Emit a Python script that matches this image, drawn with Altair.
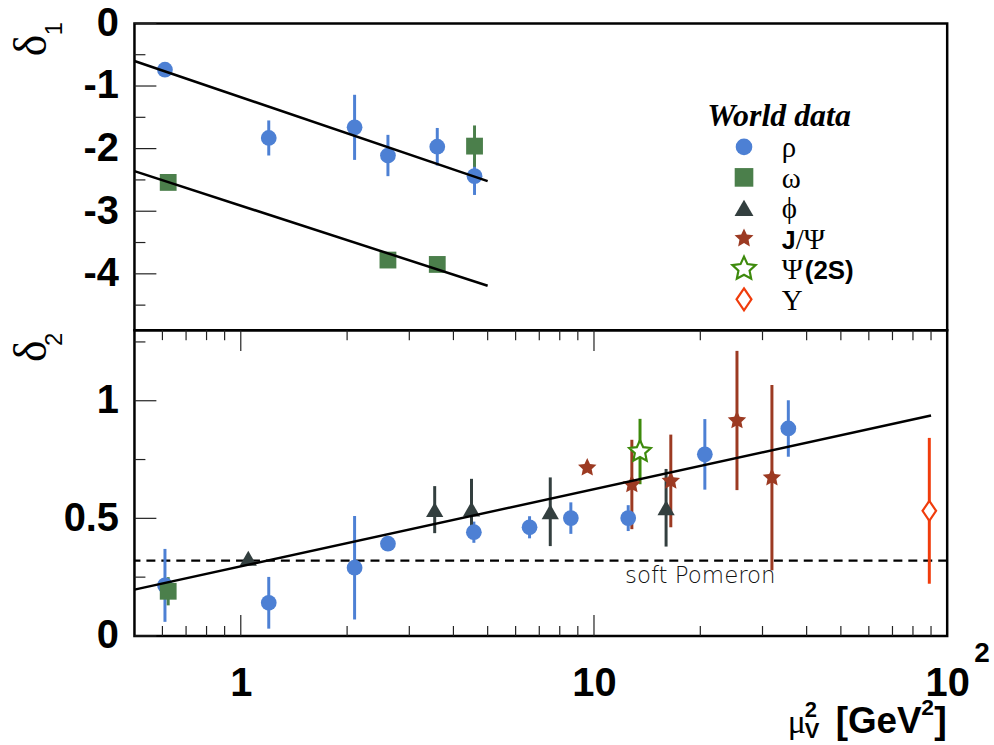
import math
import altair as alt
import pandas as pd

# ---------------- data: upper panel (delta_1) ----------------
rho_d1_x = [0.61, 1.20, 2.10, 2.61, 3.60, 4.59]
rho_d1_y = [-0.74, -1.83, -1.66, -2.11, -1.97, -2.44]
rho_d1_err = [0.00, 0.28, 0.52, 0.33, 0.30, 0.30]

omega_d1_x = [0.623, 2.61, 3.60, 4.59]
omega_d1_y = [-2.54, -3.78, -3.85, -1.96]
omega_d1_err = [0.00, 0.00, 0.00, 0.33]

fit_rho_d1_x = [0.5, 5.0]
fit_rho_d1_y = [-0.60, -2.52]
fit_omega_d1_x = [0.5, 5.0]
fit_omega_d1_y = [-2.36, -4.19]

# ---------------- data: lower panel (delta_2) ----------------
rho_d2_x = [0.61, 1.20, 2.10, 2.61, 4.57, 6.57, 8.60, 12.5, 20.6, 35.5]
rho_d2_y = [0.215, 0.141, 0.29, 0.392, 0.441, 0.462, 0.501, 0.501, 0.772, 0.882]
rho_d2_err = [0.155, 0.11, 0.22, 0.025, 0.045, 0.047, 0.067, 0.055, 0.15, 0.12]

omega_d2_x = [0.623]
omega_d2_y = [0.19]
omega_d2_err = [0.06]

phi_d2_x = [1.05, 3.54, 4.50, 7.52, 16.0]
phi_d2_y = [0.33, 0.537, 0.54, 0.528, 0.545]
phi_d2_err = [0.0, 0.10, 0.128, 0.146, 0.165]

jpsi_d2_x = [9.57, 12.8, 16.5, 25.4, 31.9]
jpsi_d2_y = [0.715, 0.644, 0.659, 0.916, 0.673]
jpsi_d2_err = [0.0, 0.19, 0.197, 0.296, 0.394]

psi2s_d2_x = [13.5]
psi2s_d2_y = [0.784]
psi2s_d2_err = [0.139]

ups_d2_x = [89.0]
ups_d2_y = [0.532]
ups_d2_err = [0.31]

fit_d2_x = [0.5, 90.0]
fit_d2_y = [0.197, 0.937]

soft_pomeron = [0.32]
soft_pomeron_label_x = [20.0]

# ---------------- axis ticks and labels ----------------
d1_label_values = [0, -1, -2, -3, -4]
d1_major_ticks = [0, -1, -2, -3, -4]
d1_minor_ticks = [-0.5, -1.5, -2.5, -3.5, -4.5]
d2_label_values = [0, 0.5, 1]
d2_major_ticks = [0, 0.5, 1.0]
d2_minor_ticks = [0.25, 0.75, 1.25]
x_label_values = [1, 10, 100]
x_major_ticks = [1, 10]
x_minor_ticks = [0.6, 0.7, 0.8, 0.9, 2, 3, 4, 5, 6, 7, 8, 9,
                 20, 30, 40, 50, 60, 70, 80, 90]

# ---------------- styling ----------------
SANS = "Liberation Sans"
SERIF = "Liberation Serif"
BLUE = "#4d80d4"
OMEGA_GREEN = "#4b7f4b"
PHI_DARK = "#333f3f"
JPSI_BROWN = "#9c3a22"
PSI2S_GREEN = "#3d8a0c"
UPS_RED = "#f03c0c"
TICK = "#222222"

W = 816
H1 = 308
H2 = 307
MAJOR_LEN = 22
MINOR_LEN = 11


def star_path(inner):
    pts = []
    for k in range(10):
        a = math.radians(-90 + 36 * k)
        r = 1.0 if k % 2 == 0 else inner
        pts.append(f"{r * math.cos(a):.3f},{r * math.sin(a):.3f}")
    return "M" + "L".join(pts) + "Z"


STAR = star_path(0.48)
DIAMOND = "M0,-1L0.68,0L0,1L-0.68,0Z"

xscale = alt.Scale(type="log", domain=[0.5, 100], nice=False)
y1scale = alt.Scale(domain=[-4.9, 0], nice=False, zero=False)
y2scale = alt.Scale(domain=[0, 1.3], nice=False, zero=False)

y_axis_style = dict(title=None, ticks=False, domain=False, grid=False,
                    labelFont=SANS, labelFontWeight="bold", labelFontSize=40,
                    labelColor="black", labelPadding=16, labelOverlap=False,
                    labelExpr="toString(datum.value)")
y1_axis = alt.Axis(values=d1_label_values, **y_axis_style)
y2_axis = alt.Axis(values=d2_label_values, **y_axis_style)
x_axis = alt.Axis(values=x_label_values, title=None, ticks=False, domain=False,
                  grid=False, labelFont=SANS, labelFontWeight="bold",
                  labelFontSize=40, labelColor="black", labelPadding=28,
                  labelFlush=False, labelOverlap=False,
                  labelExpr="datum.value == 100 ? '10' : toString(datum.value)")

ONE = pd.DataFrame({"k": [0]})


def table(xs, ys, errs=None):
    d = {"x": xs, "y": ys}
    if errs is not None:
        d["err"] = errs
    return pd.DataFrame(d)


class Panel:
    def __init__(self, yscale, yaxis, xaxis):
        self.yscale = yscale
        self.yaxis = yaxis
        self.xaxis = xaxis

    def X(self, field="x"):
        return alt.X(f"{field}:Q", scale=xscale, axis=self.xaxis)

    def Y(self, field="y"):
        return alt.Y(f"{field}:Q", scale=self.yscale, axis=self.yaxis)

    def errbars(self, df, color):
        return (alt.Chart(df)
                .transform_filter("datum.err > 0")
                .transform_calculate(lo="datum.y - datum.err", hi="datum.y + datum.err")
                .mark_rule(color=color, strokeWidth=3)
                .encode(x=self.X(), y=self.Y("lo"), y2="hi:Q"))

    def points(self, df, shape, size, color, hollow=False):
        if hollow:
            mark = dict(shape=shape, size=size, filled=True, fill="white",
                        stroke=color, strokeWidth=2.2, opacity=1)
        else:
            mark = dict(shape=shape, size=size, filled=True, color=color,
                        opacity=1)
        return alt.Chart(df).mark_point(**mark).encode(x=self.X(), y=self.Y())

    def line(self, xs, ys):
        return (alt.Chart(table(xs, ys))
                .mark_line(color="black", strokeWidth=2.5)
                .encode(x=self.X(), y=self.Y()))

    def yticks(self, values, length):
        return (alt.Chart(pd.DataFrame({"v": values}))
                .mark_rule(color=TICK, strokeWidth=1.2)
                .encode(y=self.Y("v"), x=alt.value(0), x2=alt.value(length)))


def text(s, x, y, font=SANS, size=20, weight="normal", style="normal",
         angle=0, align="left", baseline="alphabetic", color="black"):
    return (alt.Chart(ONE)
            .mark_text(text=s, font=font, fontSize=size, fontWeight=weight,
                       fontStyle=style, angle=angle, align=align,
                       baseline=baseline, color=color)
            .encode(x=alt.value(x), y=alt.value(y)))


def marker(shape, size, color, x, y, hollow=False):
    if hollow:
        m = dict(shape=shape, size=size, filled=True, fill="white",
                 stroke=color, strokeWidth=2.2, opacity=1)
    else:
        m = dict(shape=shape, size=size, filled=True, color=color, opacity=1)
    return alt.Chart(ONE).mark_point(**m).encode(x=alt.value(x), y=alt.value(y))


# ---------------- upper panel ----------------
top = Panel(y1scale, y1_axis, None)

rho1 = table(rho_d1_x, rho_d1_y, rho_d1_err)
omega1 = table(omega_d1_x, omega_d1_y, omega_d1_err)

legend_layers = [text("World data", 575, 103, font=SERIF, size=32,
                      weight="bold", style="italic")]
LEG_MX, LEG_TX, LEG_Y0, LEG_DY = 612, 650, 124, 30.6
legend_rows = [
    (("circle", 280, BLUE, False), [("ρ", SERIF, 29, "normal", 0)]),
    (("square", 350, OMEGA_GREEN, False), [("ω", SERIF, 29, "normal", 0)]),
    (("triangle-up", 361, PHI_DARK, False), [("ϕ", SERIF, 29, "normal", 0)]),
    ((STAR, 400, JPSI_BROWN, False), [("J", SANS, 25, "bold", 0),
                                       ("/Ψ", SERIF, 29, "normal", 14)]),
    ((STAR, 600, PSI2S_GREEN, True), [("Ψ", SERIF, 29, "normal", 0),
                                       ("(2S)", SANS, 26, "bold", 23)]),
    ((DIAMOND, 484, UPS_RED, True), [("Υ", SERIF, 29, "normal", 0)]),
]
for i, (mk, pieces) in enumerate(legend_rows):
    cy = LEG_Y0 + LEG_DY * i
    shape, size, color, hollow = mk
    legend_layers.append(marker(shape, size, color, LEG_MX, cy, hollow))
    for s, font, fsize, weight, dx in pieces:
        legend_layers.append(text(s, LEG_TX + dx, cy + 10.5, font=font,
                                  size=fsize, weight=weight))

upper = alt.layer(
    top.yticks(d1_major_ticks, MAJOR_LEN),
    top.yticks(d1_minor_ticks, MINOR_LEN),
    top.errbars(rho1, BLUE),
    top.errbars(omega1, OMEGA_GREEN),
    top.points(rho1, "circle", 250, BLUE),
    top.points(omega1, "square", 285, OMEGA_GREEN),
    top.line(fit_rho_d1_x, fit_rho_d1_y),
    top.line(fit_omega_d1_x, fit_omega_d1_y),
    text("δ", -89, 33, font=SERIF, size=46, angle=270),
    text("1", -73, 12, font=SANS, size=24, angle=270),
    *legend_layers,
).properties(width=W, height=H1)

# ---------------- lower panel ----------------
bot = Panel(y2scale, y2_axis, x_axis)

rho2 = table(rho_d2_x, rho_d2_y, rho_d2_err)
omega2 = table(omega_d2_x, omega_d2_y, omega_d2_err)
phi2 = table(phi_d2_x, phi_d2_y, phi_d2_err)
jpsi2 = table(jpsi_d2_x, jpsi_d2_y, jpsi_d2_err)
psi2s2 = table(psi2s_d2_x, psi2s_d2_y, psi2s_d2_err)
ups2 = table(ups_d2_x, ups_d2_y, ups_d2_err)


def xticks(values, length, at_top):
    y0 = 0 if at_top else H2
    y1 = length if at_top else H2 - length
    return (alt.Chart(pd.DataFrame({"v": values}))
            .mark_rule(color=TICK, strokeWidth=1.2)
            .encode(x=bot.X("v"), y=alt.value(y0), y2=alt.value(y1)))


pomeron = (alt.Chart(pd.DataFrame({"v": soft_pomeron}))
           .mark_rule(color="black", strokeWidth=2.2, strokeDash=[9, 6])
           .encode(y=bot.Y("v")))

pomeron_label = (alt.Chart(pd.DataFrame({"x": soft_pomeron_label_x, "y": soft_pomeron}))
                 .mark_text(text="soft Pomeron", font="DejaVu Sans", fontSize=23,
                            fontWeight=200, color="#111111", align="center",
                            baseline="alphabetic", dy=22)
                 .encode(x=bot.X(), y=bot.Y()))

lower = alt.layer(
    bot.yticks(d2_major_ticks, MAJOR_LEN),
    bot.yticks(d2_minor_ticks, MINOR_LEN),
    xticks(x_major_ticks, 21, False),
    xticks(x_minor_ticks, 10, False),
    xticks(x_major_ticks, 21, True),
    xticks(x_minor_ticks, 10, True),
    pomeron,
    pomeron_label,
    bot.errbars(rho2, BLUE),
    bot.errbars(omega2, OMEGA_GREEN),
    bot.errbars(phi2, PHI_DARK),
    bot.errbars(jpsi2, JPSI_BROWN),
    bot.errbars(psi2s2, PSI2S_GREEN),
    bot.errbars(ups2, UPS_RED),
    bot.points(rho2, "circle", 250, BLUE),
    bot.points(omega2, "square", 285, OMEGA_GREEN),
    bot.points(phi2, "triangle-up", 300, PHI_DARK),
    bot.points(jpsi2, STAR, 380, JPSI_BROWN),
    bot.points(psi2s2, STAR, 520, PSI2S_GREEN, hollow=True),
    bot.points(ups2, DIAMOND, 400, UPS_RED, hollow=True),
    bot.line(fit_d2_x, fit_d2_y),
    text("δ", -89, 32, font=SERIF, size=46, angle=270),
    text("2", -73, 16, font=SANS, size=24, angle=270),
    # exponent of the 10^2 tick label
    text("2", 851, 333, size=28, weight="bold", align="center"),
    # axis title: mu_V^2 [GeV^2], right-aligned under the axis end
    text("μ", 656, 404, font=SERIF, size=34),
    text("V", 673, 409, size=22, weight="bold"),
    text("2", 673, 388, size=22, weight="bold"),
    text("[GeV", 704, 404, size=37, weight="bold"),
    text("2", 790, 386, size=23, weight="bold"),
    text("]", 803, 404, size=38, weight="bold"),
).properties(width=W, height=H2)

chart = (alt.vconcat(upper, lower, spacing=0, bounds="flush")
         .properties(padding={"left": 7, "top": 0, "right": 2, "bottom": 2},
                     background="white")
         .configure_view(stroke="black", strokeWidth=2.5))

chart.save("out.html", embed_options={"renderer": "svg", "actions": False})
